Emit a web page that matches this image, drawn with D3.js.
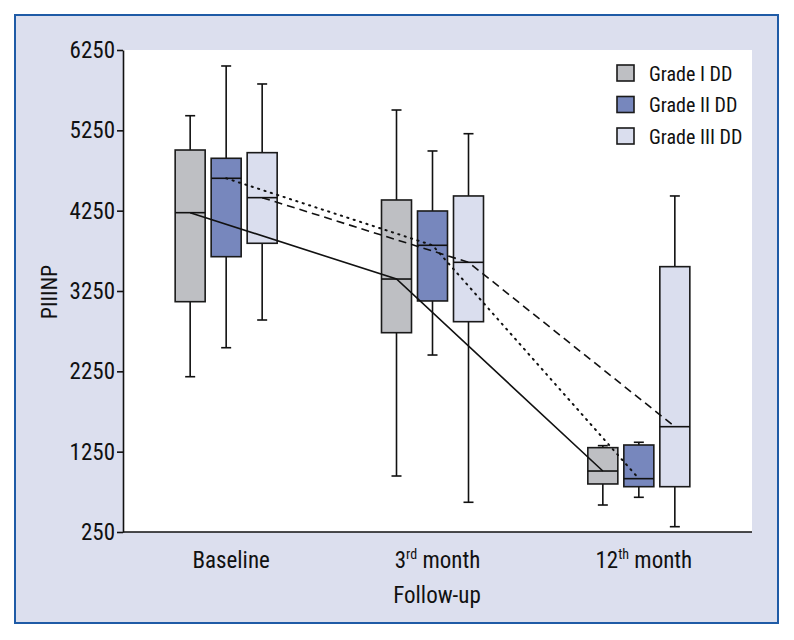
<!DOCTYPE html>
<html>
<head>
<meta charset="utf-8">
<script src="https://cdn.jsdelivr.net/npm/d3@7"></script>
<style>
  html, body { margin: 0; padding: 0; background: #ffffff; }
  svg { display: block; }
  text { font-family: "Liberation Sans Narrow", "Roboto Condensed", "DejaVu Sans Condensed", "Arial Narrow", sans-serif; fill: #111; }
</style>
</head>
<body>
<svg id="chart" width="794" height="640"></svg>
<script>
// ---- data ----
const categories = ["Baseline", "3rd month", "12th month"];
const catMain = ["Baseline", "3", "12"];
const catSup = ["", "rd", "th"];
const catTail = ["", " month", " month"];
const series = ["Grade I DD", "Grade II DD", "Grade III DD"];
// [min, q1, median, q3, max] per category
const gradeI   = [[2183, 3117, 4225, 5005, 5432], [947, 2731, 3399, 4383, 5503], [586, 848, 1009, 1300, 1325]];
const gradeII  = [[2544, 3677, 4653, 4902, 6051], [2453, 3126, 3819, 4246, 4993], [682, 814, 914, 1333, 1367]];
const gradeIII = [[2889, 3844, 4412, 4972, 5827], [620, 2868, 3607, 4433, 5208], [316, 814, 1561, 3553, 4433]];
const yTicks = [250, 1250, 2250, 3250, 4250, 5250, 6250];
const yLabel = "PIIINP";
const xLabel = "Follow-up";

const seriesData = [gradeI, gradeII, gradeIII];
const colors = ["#bebfc3", "#7787bd", "#dadeee"];
const dashes = [null, "1.2,5.5", "8,5"];

const svg = d3.select("#chart");
const L = 123, R = 752, T = 50, B = 532;

// frame
svg.append("rect").attr("x", 15).attr("y", 15).attr("width", 763).attr("height", 608)
  .attr("fill", "#dcdfee").attr("stroke", "#1f5ba6").attr("stroke-width", 2);
svg.append("rect").attr("x", L).attr("y", T).attr("width", R - L).attr("height", B - T).attr("fill", "#ffffff");

const y = d3.scaleLinear().domain([250, 6250]).range([B, T]);
const x = d3.scaleBand().domain(categories).range([L, 742]);
const offsets = [-36, 0, 36];
const bw = 30, capW = 10;
const cx = (ci, si) => x(categories[ci]) + x.bandwidth() / 2 + offsets[si];

// boxes
seriesData.forEach((arr, si) => {
  arr.forEach((d, ci) => {
    const g = svg.append("g");
    const c = cx(ci, si);
    g.append("line").attr("x1", c).attr("x2", c).attr("y1", y(d[4])).attr("y2", y(d[3])).attr("stroke", "#111").attr("stroke-width", 1.6);
    g.append("line").attr("x1", c).attr("x2", c).attr("y1", y(d[1])).attr("y2", y(d[0])).attr("stroke", "#111").attr("stroke-width", 1.6);
    g.append("line").attr("x1", c - capW / 2).attr("x2", c + capW / 2).attr("y1", y(d[4])).attr("y2", y(d[4])).attr("stroke", "#111").attr("stroke-width", 1.6);
    g.append("line").attr("x1", c - capW / 2).attr("x2", c + capW / 2).attr("y1", y(d[0])).attr("y2", y(d[0])).attr("stroke", "#111").attr("stroke-width", 1.6);
    g.append("rect").attr("x", c - bw / 2).attr("y", y(d[3])).attr("width", bw).attr("height", y(d[1]) - y(d[3]))
      .attr("fill", colors[si]).attr("stroke", "#1a1a1a").attr("stroke-width", 1.6);
    g.append("line").attr("x1", c - bw / 2).attr("x2", c + bw / 2).attr("y1", y(d[2])).attr("y2", y(d[2])).attr("stroke", "#111").attr("stroke-width", 1.6);
  });
});

// median connecting lines
const line = d3.line().x(d => d[0]).y(d => d[1]);
seriesData.forEach((arr, si) => {
  const pts = arr.map((d, ci) => [cx(ci, si), y(d[2])]);
  svg.append("path").attr("d", line(pts)).attr("fill", "none").attr("stroke", "#111")
    .attr("stroke-width", si === 1 ? 2 : 1.6)
    .attr("stroke-linecap", si === 1 ? "round" : "butt")
    .attr("stroke-dasharray", dashes[si]);
});

// y axis
const yAxis = svg.append("g").attr("transform", `translate(${L},0)`)
  .call(d3.axisLeft(y).tickValues(yTicks).tickSize(6).tickSizeOuter(0).tickPadding(2).tickFormat(d3.format("d")));
yAxis.select(".domain").attr("stroke", "#111").attr("stroke-width", 1.6);
yAxis.selectAll(".tick line").attr("stroke", "#111").attr("stroke-width", 1.6);
yAxis.selectAll(".tick text").attr("font-size", 23).attr("fill", "#111")
  .style("font-family", "'Liberation Sans Narrow', 'Roboto Condensed', 'DejaVu Sans Condensed', sans-serif");

// x axis line
svg.append("line").attr("x1", L).attr("x2", R).attr("y1", B).attr("y2", B).attr("stroke", "#111").attr("stroke-width", 1.6);

// category labels
categories.forEach((c, i) => {
  const t = svg.append("text").attr("x", x(c) + x.bandwidth() / 2 + 5).attr("y", 568)
    .attr("text-anchor", "middle").attr("font-size", 23);
  t.append("tspan").text(catMain[i]);
  if (catSup[i]) {
    t.append("tspan").attr("font-size", 14).attr("dy", -9).text(catSup[i]);
    t.append("tspan").attr("dy", 9).text(catTail[i]);
  }
});

// axis titles
svg.append("text").attr("x", 437).attr("y", 603).attr("text-anchor", "middle").attr("font-size", 23).text(xLabel);
svg.append("text").attr("transform", "translate(57,292) rotate(-90)").attr("text-anchor", "middle").attr("font-size", 22).text(yLabel);

// legend
series.forEach((s, i) => {
  const yy = 65 + i * 31.5;
  svg.append("rect").attr("x", 617).attr("y", yy).attr("width", 17).attr("height", 16)
    .attr("fill", colors[i]).attr("stroke", "#1a1a1a").attr("stroke-width", 1.6);
  svg.append("text").attr("x", 649).attr("y", yy + 15.5).attr("font-size", 20).text(s);
});
</script>
</body>
</html>
